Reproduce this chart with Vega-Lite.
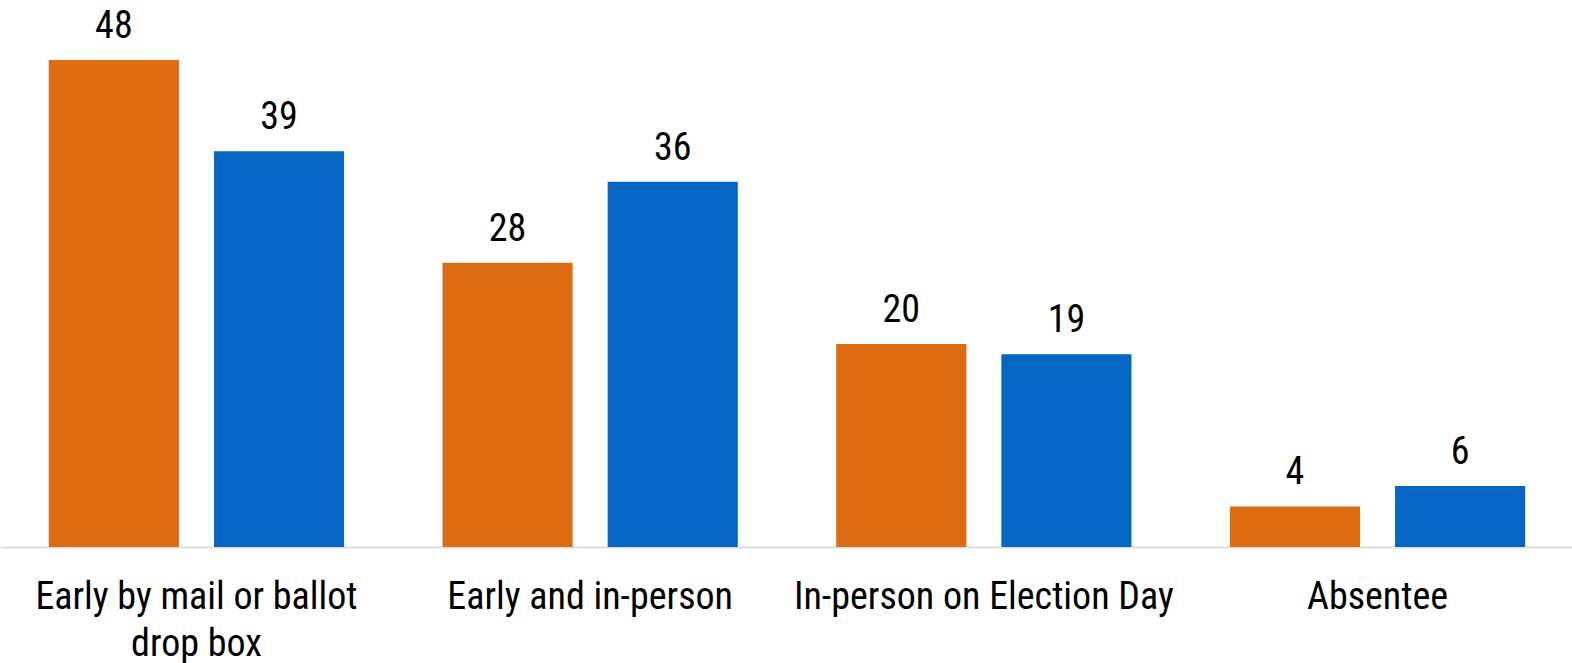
{
  "$schema": "https://vega.github.io/schema/vega-lite/v6.json",
  "width": 1574,
  "height": 547,
  "padding": 0,
  "background": "white",
  "config": {"view": {"stroke": null}, "font": "Roboto Condensed, Liberation Sans Narrow, DejaVu Sans Condensed, Roboto"},
  "data": {
    "values": [
      {"method": "Early by mail or ballot drop box", "series": "A", "value": 48},
      {"method": "Early by mail or ballot drop box", "series": "B", "value": 39},
      {"method": "Early and in-person", "series": "A", "value": 28},
      {"method": "Early and in-person", "series": "B", "value": 36},
      {"method": "In-person on Election Day", "series": "A", "value": 20},
      {"method": "In-person on Election Day", "series": "B", "value": 19},
      {"method": "Absentee", "series": "A", "value": 4},
      {"method": "Absentee", "series": "B", "value": 6}
    ]
  },
  "encoding": {
    "x": {
      "field": "method", "type": "nominal", "sort": null,
      "scale": {"paddingInner": 0.25, "paddingOuter": 0.124},
      "axis": {
        "title": null, "labelAngle": 0, "ticks": false,
        "domainColor": "#dddddd", "domainWidth": 2,
        "labelFontSize": 38, "labelColor": "#000000", "labelPadding": 31,
        "labelLineHeight": 47, "labelFont": "Roboto Condensed, Liberation Sans Narrow, DejaVu Sans Condensed, Roboto",
        "labelExpr": "datum.value == 'Early by mail or ballot drop box' ? ['Early by mail or ballot', 'drop box'] : datum.value",
        "labelLimit": 500
      }
    },
    "xOffset": {"field": "series", "type": "nominal", "scale": {"paddingInner": 0.212, "paddingOuter": 0}},
    "y": {"field": "value", "type": "quantitative", "scale": {"domain": [0, 53.9]}, "axis": null}
  },
  "layer": [
    {
      "mark": {"type": "bar"},
      "encoding": {
        "color": {"field": "series", "type": "nominal", "scale": {"domain": ["A", "B"], "range": ["#DD6B11", "#0566C3"]}, "legend": null}
      }
    },
    {
      "mark": {"type": "text", "baseline": "alphabetic", "dy": -22, "fontSize": 38, "color": "#000000"},
      "encoding": {"text": {"field": "value", "type": "quantitative"}}
    }
  ]
}
